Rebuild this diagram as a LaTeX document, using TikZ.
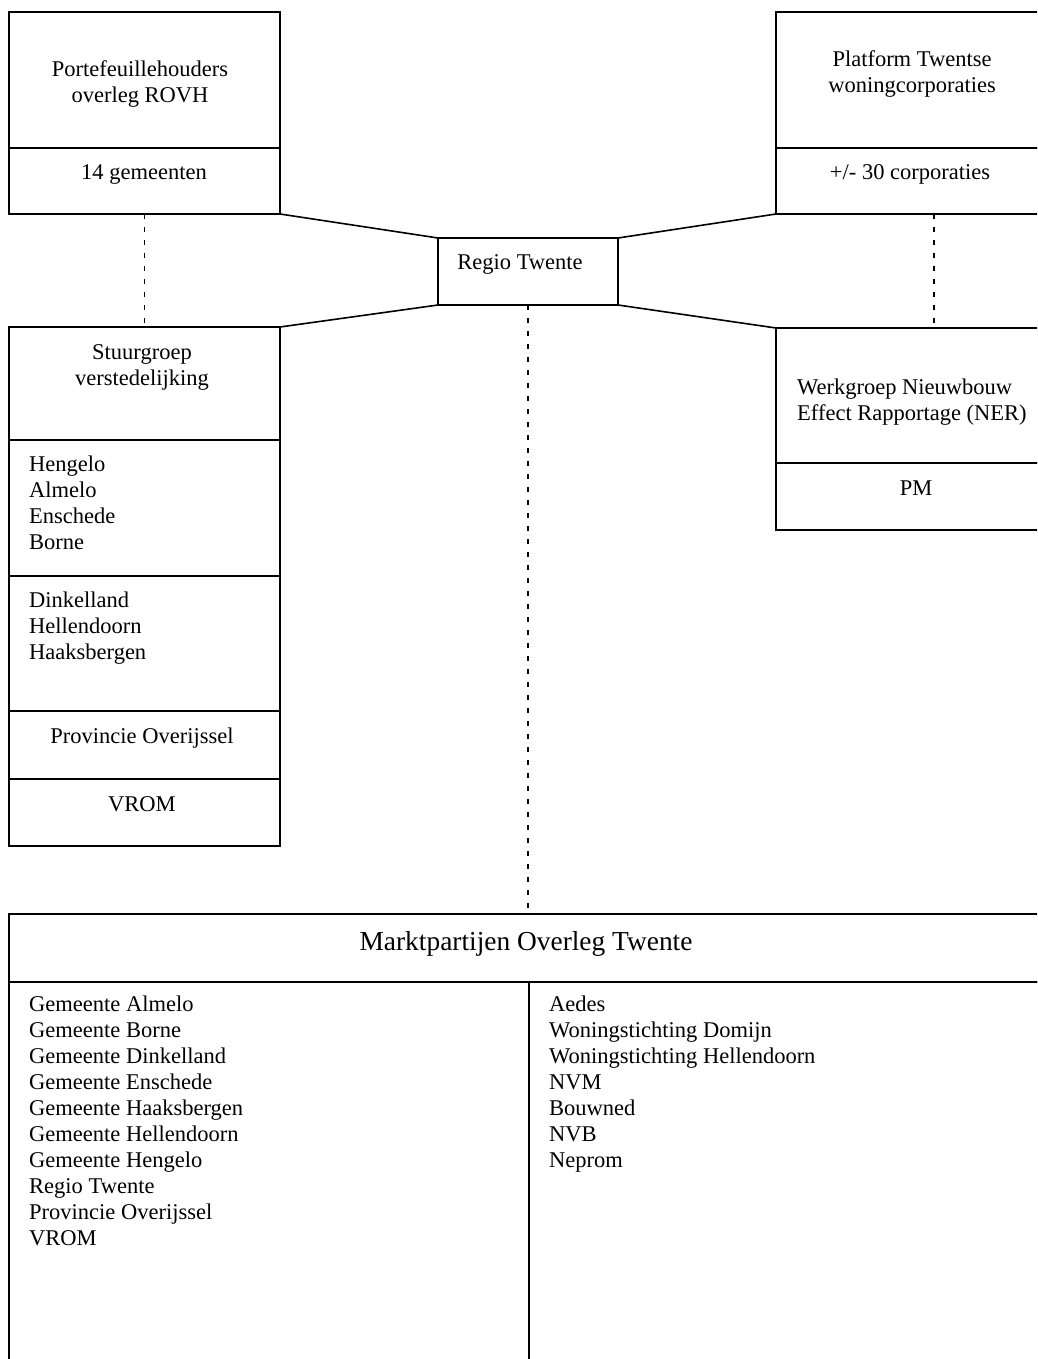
\documentclass[tikz,border=0pt]{standalone}
\usepackage{fontspec}
\setmainfont{Liberation Serif}
\begin{document}
\begin{tikzpicture}[x=1pt,y=-1pt,
  part/.style={draw,line width=1.8pt,inner sep=0pt,outer sep=0pt,anchor=north west},
  link/.style={line width=1.6pt},
  dotline/.style={line width=1.8pt,dash pattern=on 5pt off 8pt},
  txt/.style={inner sep=0pt,font=\fontsize{22.5}{26}\selectfont},
  ctxt/.style={txt,anchor=base,align=center},
  ltxt/.style={txt,anchor=base west,align=left}]
\useasboundingbox (0,0) rectangle (1037,1359);
\clip (0,0) rectangle (1037,1359);
\node[part,minimum width=271pt,minimum height=136pt] (rovh) at (9,12) {};
\node[part,minimum width=271pt,minimum height=66pt] (rovhsub) at (rovh.south west) {};
\node[part,minimum width=316pt,minimum height=136pt] (platform) at (776,12) {};
\node[part,minimum width=316pt,minimum height=66pt] (platformsub) at (platform.south west) {};
\node[part,minimum width=180pt,minimum height=67pt] (regio) at (438,238) {};
\node[part,minimum width=271pt,minimum height=113pt] (stuur) at (9,327) {};
\node[part,minimum width=271pt,minimum height=136pt] (stuurgrote) at (stuur.south west) {};
\node[part,minimum width=271pt,minimum height=135pt] (stuurkleine) at (stuurgrote.south west) {};
\node[part,minimum width=271pt,minimum height=68pt] (stuurprov) at (stuurkleine.south west) {};
\node[part,minimum width=271pt,minimum height=67pt] (stuurvrom) at (stuurprov.south west) {};
\node[part,minimum width=316pt,minimum height=135pt] (werk) at (776,328) {};
\node[part,minimum width=316pt,minimum height=67pt] (werksub) at (werk.south west) {};
\node[part,minimum width=1040pt,minimum height=68pt] (mot) at (9,914) {};
\node[part,minimum width=520pt,minimum height=400pt] (motlinks) at (mot.south west) {};
\node[part,minimum width=520pt,minimum height=400pt] (motrechts) at (motlinks.north east) {};

\draw[link] (rovhsub.south east) -- (regio.north west);
\draw[link] (regio.north east) -- (platformsub.south west);
\draw[link] (regio.south west) -- (stuur.north east);
\draw[link] (regio.south east) -- (werk.north west);
\draw[dotline] (rovhsub.south) -- (stuur.north);
\draw[dotline] (platformsub.south) -- (werk.north);
\draw[dotline] (regio.south) -- (regio.south |- mot.north);

\node[ctxt] (trovh) at (140,103) {Portefeuillehouders\\overleg ROVH};
\node[ctxt] (trovhsub) at (144,179) {14 gemeenten};
\node[ctxt] (tplatform) at (912,93) {Platform Twentse\\woningcorporaties};
\node[ctxt] (tplatformsub) at (910,180) {+/- 30 corporaties};
\node[ctxt] (tregio) at (520,269) {Regio Twente};
\node[ctxt] (tstuur) at (142,385) {Stuurgroep\\verstedelijking};
\node[ltxt] (tstuurgrote) at (29,549) {Hengelo\\Almelo\\Enschede\\Borne};
\node[ltxt] (tstuurkleine) at (29,659) {Dinkelland\\Hellendoorn\\Haaksbergen};
\node[ctxt] (tstuurprov) at (142,743) {Provincie Overijssel};
\node[ctxt] (tstuurvrom) at (142,811) {VROM};
\node[ltxt] (twerk) at (797,420) {Werkgroep Nieuwbouw\\Effect Rapportage (NER)};
\node[ctxt] (twerksub) at (916,495) {PM};
\node[ctxt,font=\fontsize{27.4}{32}\selectfont] (tmot) at (526,950) {Marktpartijen Overleg Twente};
\node[ltxt] (tmotlinks) at (29,1245) {Gemeente Almelo\\Gemeente Borne\\Gemeente Dinkelland\\Gemeente Enschede\\Gemeente Haaksbergen\\Gemeente Hellendoorn\\Gemeente Hengelo\\Regio Twente\\Provincie Overijssel\\VROM};
\node[ltxt] (tmotrechts) at (549,1167) {Aedes\\Woningstichting Domijn\\Woningstichting Hellendoorn\\NVM\\Bouwned\\NVB\\Neprom};
\end{tikzpicture}
\end{document}
